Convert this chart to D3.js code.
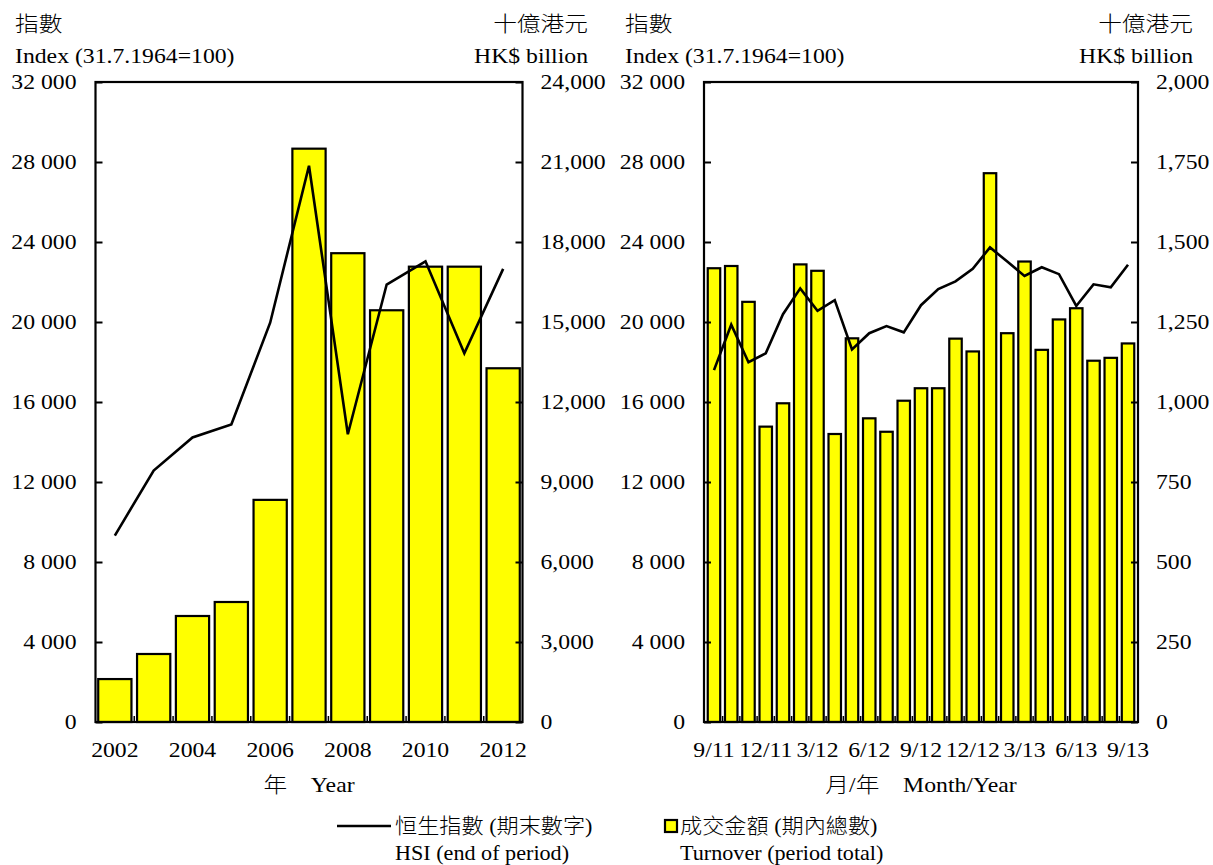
<!DOCTYPE html>
<html><head><meta charset="utf-8">
<script src="https://cdn.jsdelivr.net/npm/d3@7"></script>
<style>
body{margin:0;background:#fff;}
text{font-family:"Liberation Serif","Times New Roman","Noto Sans CJK TC",serif;fill:#000;}
.cjk{font-weight:300;}
</style></head>
<body>
<script>
// ---- Data ----
const years = ["2002","2003","2004","2005","2006","2007","2008","2009","2010","2011","2012"];
const hsiAnnual = [9321,12576,14230,14876,19965,27813,14388,21873,23035,18434,22657];
const turnoverAnnual = [1610,2550,3975,4500,8330,21500,17580,15440,17075,17075,13265];
const yearLabels = ["2002","2004","2006","2008","2010","2012"];

const months = ["9/11","10/11","11/11","12/11","1/12","2/12","3/12","4/12","5/12","6/12","7/12","8/12",
  "9/12","10/12","11/12","12/12","1/13","2/13","3/13","4/13","5/13","6/13","7/13","8/13","9/13"];
const hsiMonthly = [17592,19864,17989,18434,20390,21680,20556,21094,18630,19441,19796,19483,
  20840,21642,22030,22657,23730,23020,22300,22737,22392,20803,21883,21731,22860];
const turnoverMonthly = [1418,1425,1313,923,996,1430,1410,900,1199,949,907,1004,
  1043,1043,1198,1158,1715,1215,1439,1163,1258,1293,1129,1138,1183];
const monthLabels = ["9/11","12/11","3/12","6/12","9/12","12/12","3/13","6/13","9/13"];

const leftTicks = [0,4000,8000,12000,16000,20000,24000,28000,32000];
const rightTicksAnnual = [0,3000,6000,9000,12000,15000,18000,21000,24000];
const rightTicksMonthly = [0,250,500,750,1000,1250,1500,1750,2000];

// ---- Drawing ----
const W = 1213, H = 865;
const svg = d3.select("body").append("svg").attr("width", W).attr("height", H);
const FS = 21;
const SX = 1.13;
const SX_LEG = 1.055;
const fmtSpace = d => d3.format(",")(d).replace(/,/g, " ");
const fmtComma = d3.format(",");

function panel(o) {
  const g = svg.append("g");
  const x = d3.scaleBand().domain(o.cats).range([o.x0, o.x1]).paddingInner(o.pI).paddingOuter(o.pO);
  const yL = d3.scaleLinear().domain([0, 32000]).range([o.y1, o.y0]);
  const yR = d3.scaleLinear().domain([0, o.rTicks[o.rTicks.length - 1]]).range([o.y1, o.y0]);
  const bw = x.bandwidth();

  // x boundary ticks
  const step = x.step();
  o.cats.slice(1).forEach(c => {
    const bx = x(c) - step * o.pI / 2;
    g.append("line").attr("x1", bx).attr("x2", bx).attr("y1", o.y1).attr("y2", o.y1 - 6)
      .attr("stroke", "#000").attr("stroke-width", 1.5);
  });

  // bars
  g.selectAll("rect.bar").data(o.bars).join("rect").attr("class", "bar")
    .attr("x", (d, i) => x(o.cats[i]))
    .attr("y", d => yR(d))
    .attr("width", bw)
    .attr("height", d => o.y1 - yR(d))
    .attr("fill", "#ffff00").attr("stroke", "#000").attr("stroke-width", 2.2);

  // line
  const line = d3.line().x((d, i) => x(o.cats[i]) + bw / 2).y(d => yL(d));
  g.append("path").datum(o.line).attr("d", line)
    .attr("fill", "none").attr("stroke", "#000").attr("stroke-width", 2.6).attr("stroke-linejoin", "miter");

  // axes
  const axL = g.append("g").attr("transform", `translate(${o.x0},0)`)
    .call(d3.axisLeft(yL).tickValues(leftTicks).tickFormat(fmtSpace).tickSize(-7).tickSizeOuter(0).tickPadding(19));
  const axR = g.append("g").attr("transform", `translate(${o.x1},0)`)
    .call(d3.axisRight(yR).tickValues(o.rTicks).tickFormat(fmtComma).tickSize(-7).tickSizeOuter(0).tickPadding(18));
  [axL, axR].forEach(a => {
    a.select(".domain").remove();
    a.selectAll(".tick line").attr("stroke", "#000").attr("stroke-width", 2);
    a.selectAll(".tick text").attr("font-size", FS).attr("font-family", null).style("fill", "#000");
  });

  // frame
  g.append("rect").attr("x", o.x0).attr("y", o.y0).attr("width", o.x1 - o.x0).attr("height", o.y1 - o.y0)
    .attr("fill", "none").attr("stroke", "#000").attr("stroke-width", 2.2);

  // x labels
  g.selectAll("text.xl").data(o.xLabels).join("text").attr("class", "xl")
    .attr("x", d => x(d) + bw / 2).attr("y", 750).attr("dy", "0.35em")
    .attr("text-anchor", "middle").attr("font-size", FS).text(d => d);

  // titles
  g.append("text").attr("x", o.tl).attr("y", 24).attr("dy", "0.35em").attr("font-size", FS).attr("class", "cjk").text("指數");
  g.append("text").attr("x", o.tl).attr("y", 56).attr("dy", "0.35em").attr("font-size", FS).text("Index (31.7.1964=100)");
  g.append("text").attr("x", o.tr).attr("y", 24).attr("dy", "0.35em").attr("text-anchor", "end").attr("font-size", FS).attr("class", "cjk").text("十億港元");
  g.append("text").attr("x", o.tr).attr("y", 56).attr("dy", "0.35em").attr("text-anchor", "end").attr("font-size", FS).text("HK$ billion");
  g.append("text").attr("x", (o.x0 + o.x1) / 2).attr("y", 785).attr("dy", "0.35em").attr("text-anchor", "middle")
    .attr("font-size", FS).attr("class", "cjk").text(o.xTitle);
}

panel({x0: 95.5, x1: 522.5, y0: 82, y1: 722, cats: years, bars: turnoverAnnual, line: hsiAnnual,
  rTicks: rightTicksAnnual, pI: 0.144, pO: 0.07, xLabels: yearLabels, tl: 15, tr: 588, xTitle: "年　Year"});
panel({x0: 704, x1: 1138, y0: 82, y1: 722, cats: months, bars: turnoverMonthly, line: hsiMonthly,
  rTicks: rightTicksMonthly, pI: 0.277, pO: 0.217, xLabels: monthLabels, tl: 625, tr: 1193, xTitle: "月/年　Month/Year"});

// legend
const lg = svg.append("g");
lg.append("line").attr("x1", 337).attr("x2", 391).attr("y1", 826).attr("y2", 826).attr("stroke", "#000").attr("stroke-width", 2.6);
lg.append("text").attr("class", "leg cjk").attr("x", 395).attr("y", 826).attr("dy", "0.35em").attr("font-size", FS).text("恒生指數 (期末數字)");
lg.append("text").attr("class", "leg").attr("x", 395).attr("y", 853).attr("dy", "0.35em").attr("font-size", FS).text("HSI (end of period)");
lg.append("rect").attr("x", 665).attr("y", 820).attr("width", 12).attr("height", 12)
  .attr("fill", "#ffff00").attr("stroke", "#000").attr("stroke-width", 2.2);
lg.append("text").attr("class", "leg cjk").attr("x", 680).attr("y", 826).attr("dy", "0.35em").attr("font-size", FS).text("成交金額 (期內總數)");
lg.append("text").attr("class", "leg").attr("x", 680).attr("y", 853).attr("dy", "0.35em").attr("font-size", FS).text("Turnover (period total)");

// horizontal stretch of text to match the reference's wide type
svg.selectAll("text").each(function () {
  const t = d3.select(this);
  const tx = +t.attr("x") || 0, ty = +t.attr("y") || 0;
  const s = t.classed("leg") ? SX_LEG : SX;
  t.attr("x", 0).attr("y", 0).attr("transform", `translate(${tx},${ty}) scale(${s},1)`);
});
</script>
</body></html>
